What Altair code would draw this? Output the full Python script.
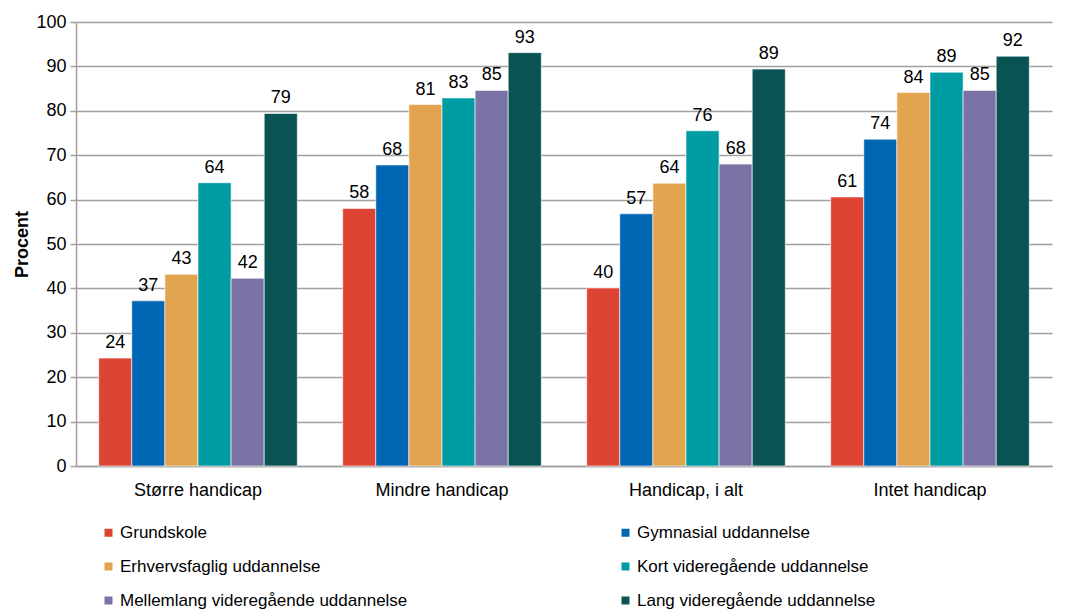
import altair as alt
import pandas as pd

groups = ["Større handicap", "Mindre handicap", "Handicap,  i alt", "Intet handicap"]
series = [
    "Grundskole",
    "Gymnasial uddannelse",
    "Erhvervsfaglig uddannelse",
    "Kort videregående uddannelse",
    "Mellemlang videregående uddannelse",
    "Lang videregående uddannelse",
]
colors = ["#DD4433", "#0066B3", "#E2A44E", "#009CA3", "#7A74A6", "#0A5353"]

grundskole = [24.3, 58.0, 40.1, 60.6]
gymnasial = [37.2, 67.8, 56.8, 73.6]
erhvervsfaglig = [43.2, 81.4, 63.7, 84.1]
kort = [63.8, 82.9, 75.5, 88.7]
mellemlang = [42.3, 84.6, 68.0, 84.6]
lang = [79.4, 93.1, 89.4, 92.3]

values = [grundskole, gymnasial, erhvervsfaglig, kort, mellemlang, lang]

rows = []
for si, (s, vals) in enumerate(zip(series, values)):
    for g, v in zip(groups, vals):
        rows.append({"group": g, "series": s, "order": si, "value": v, "label": str(int(round(v)))})
df = pd.DataFrame(rows)

FONT = "Liberation Sans"

base = alt.Chart(df).encode(
    x=alt.X("group:N", sort=groups, title=None,
            scale=alt.Scale(paddingInner=0.186, paddingOuter=0.093),
            axis=alt.Axis(labelAngle=0, labelFontSize=18, labelColor="black", labelFont=FONT,
                          ticks=False, domainColor="#A0A0A0", domainWidth=1.5, labelPadding=15)),
    xOffset=alt.XOffset("series:N", sort=series, scale=alt.Scale(paddingInner=0, paddingOuter=0)),
)

bars = base.mark_bar(stroke="white", strokeWidth=0.6).encode(
    y=alt.Y("value:Q", scale=alt.Scale(domain=[0, 100]), title="Procent",
            axis=alt.Axis(values=list(range(0, 101, 10)), labelFontSize=18, labelColor="black",
                          labelFont=FONT, titleFont=FONT, titleFontSize=18, titleFontWeight="bold",
                          titleColor="black", gridColor="#A0A0A0", gridWidth=1.5,
                          domainColor="#A0A0A0", domainWidth=1.5, tickColor="#A0A0A0",
                          tickSize=6, tickWidth=1.5, labelPadding=4, titlePadding=4)),
    color=alt.Color("series:N", sort=series,
                    scale=alt.Scale(domain=series, range=colors),
                    legend=alt.Legend(title=None, orient="none", legendX=24, legendY=502,
                                      direction="horizontal",
                                      columns=2, columnPadding=209, rowPadding=16,
                                      symbolType="square", symbolSize=64, symbolStrokeWidth=0,
                                      labelFontSize=17, labelFont=FONT, labelColor="black",
                                      labelLimit=400, labelOffset=3)),
)

labels = base.mark_text(dy=-15, fontSize=18, font=FONT, color="black").encode(
    y=alt.Y("value:Q"),
    text="label:N",
)

chart = alt.layer(bars, labels).properties(width=976, height=444).configure_view(stroke=None)

chart.save("out.html", embed_options={"renderer": "svg", "actions": False})
